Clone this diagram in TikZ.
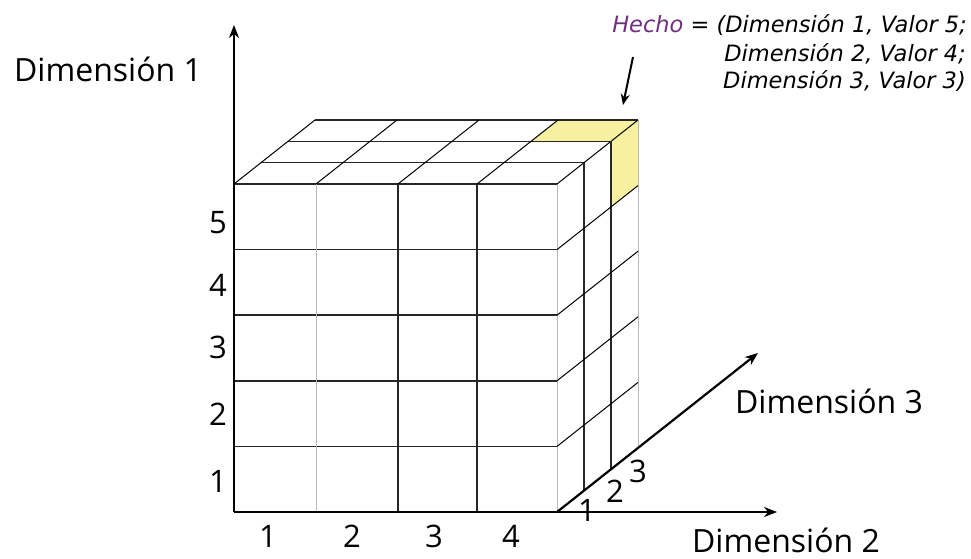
\documentclass[tikz,border=0pt]{standalone}
\usepackage{fontspec}
\setmainfont{Open Sans}
\newfontfamily\notefont{DejaVu Sans}
\usetikzlibrary{arrows.meta}
\definecolor{hechocol}{RGB}{112,48,128}
\definecolor{cellyellow}{RGB}{247,240,160}
\definecolor{lightline}{RGB}{185,185,185}
\begin{document}
\begin{tikzpicture}[x=1pt,y=-1pt,
  darkline/.style={line width=1.5pt, black!85},
  paleline/.style={line width=0.9pt, lightline},
  diagline/.style={line width=1pt, black},
  axisline/.style={line width=2.8pt, -{Stealth[length=13pt,width=10pt]}},
  biglabel/.style={font=\fontsize{32}{36}\selectfont, inner sep=0pt, anchor=base},
  numlabel/.style={font=\fontsize{31}{36}\selectfont, inner sep=0pt, anchor=base},
  notelabel/.style={font=\notefont\itshape\fontsize{22.5}{26}\selectfont, inner sep=0pt, anchor=base east}]
\useasboundingbox (0,0) rectangle (971,559);
\fill[white] (0,0) rectangle (971,559);

% highlighted cell (top face and right face)
\fill[cellyellow] (531,141.33) -- (558,120) -- (638,120) -- (611,141.33) -- cycle;
\fill[cellyellow] (611,141.33) -- (638,120) -- (638,185.6) -- (611,206.93) -- cycle;

% front face
\foreach \yy in {184,249.6,315.2,380.8,446.4}
  \draw[darkline] (234,\yy) -- (557,\yy);
\draw[paleline] (316,184) -- (316,512);
\draw[darkline] (398,184) -- (398,512);
\draw[darkline] (477,184) -- (477,512);
\draw[paleline] (557,184) -- (557,512);

% top face
\foreach \k in {1,2,3}
  \draw[darkline] ({234+27*\k},{184-21.333*\k}) -- ({557+27*\k},{184-21.333*\k});
\foreach \xx in {234,316,398,477,557}
  \draw[diagline] (\xx,184) -- ({\xx+81},120);

% right face
\foreach \k in {1,2}
  \draw[darkline] ({557+27*\k},{184-21.333*\k}) -- ({557+27*\k},{512-21.333*\k});
\draw[paleline] (638,120) -- (638,448);
\foreach \yy in {249.6,315.2,380.8,446.4}
  \draw[diagline] (557,\yy) -- (638,{\yy-64});

% axes
\coordinate (O) at (234,512);
\coordinate (Yend) at (234,25);
\coordinate (Xend) at (777,512);
\coordinate (Z0) at (557,512);
\coordinate (Zend) at (758,353);
\draw[axisline] (O) -- (Yend);
\draw[axisline] (O) -- (Xend);
\draw[axisline, line width=2.2pt] (Z0) -- (Zend);

% axis titles
\node[biglabel] (d1) at (108,82) {Dimensión 1};
\node[biglabel] (d2) at (786,552) {Dimensión 2};
\node[biglabel] (d3) at (829,413) {Dimensión 3};

% row labels
\node[numlabel] (r5) at (218,233) {5};
\node[numlabel] (r4) at (218,296) {4};
\node[numlabel] (r3) at (218,358) {3};
\node[numlabel] (r2) at (218,425) {2};
\node[numlabel] (r1) at (218,492) {1};

% column labels
\node[numlabel] (c1) at (268,547) {1};
\node[numlabel] (c2) at (352,547) {2};
\node[numlabel] (c3) at (434,547) {3};
\node[numlabel] (c4) at (511,547) {4};

% depth labels
\node[numlabel] (p1) at (587,521) {1};
\node[numlabel] (p2) at (615,502) {2};
\node[numlabel] (p3) at (638,482) {3};

% fact note
\node[notelabel] (hecho1) at (967,33) {{\color{hechocol}Hecho} = (Dimensión 1, Valor 5;};
\node[notelabel] (hecho2) at (966,62) {Dimensión 2, Valor 4;};
\node[notelabel] (hecho3) at (966,89) {Dimensión 3, Valor 3)};
\coordinate (fa) at (633,57);
\coordinate (fb) at (623,105);
\draw[line width=2pt, -{Stealth[length=11pt,width=9pt]}] (fa) -- (fb);
\end{tikzpicture}
\end{document}
